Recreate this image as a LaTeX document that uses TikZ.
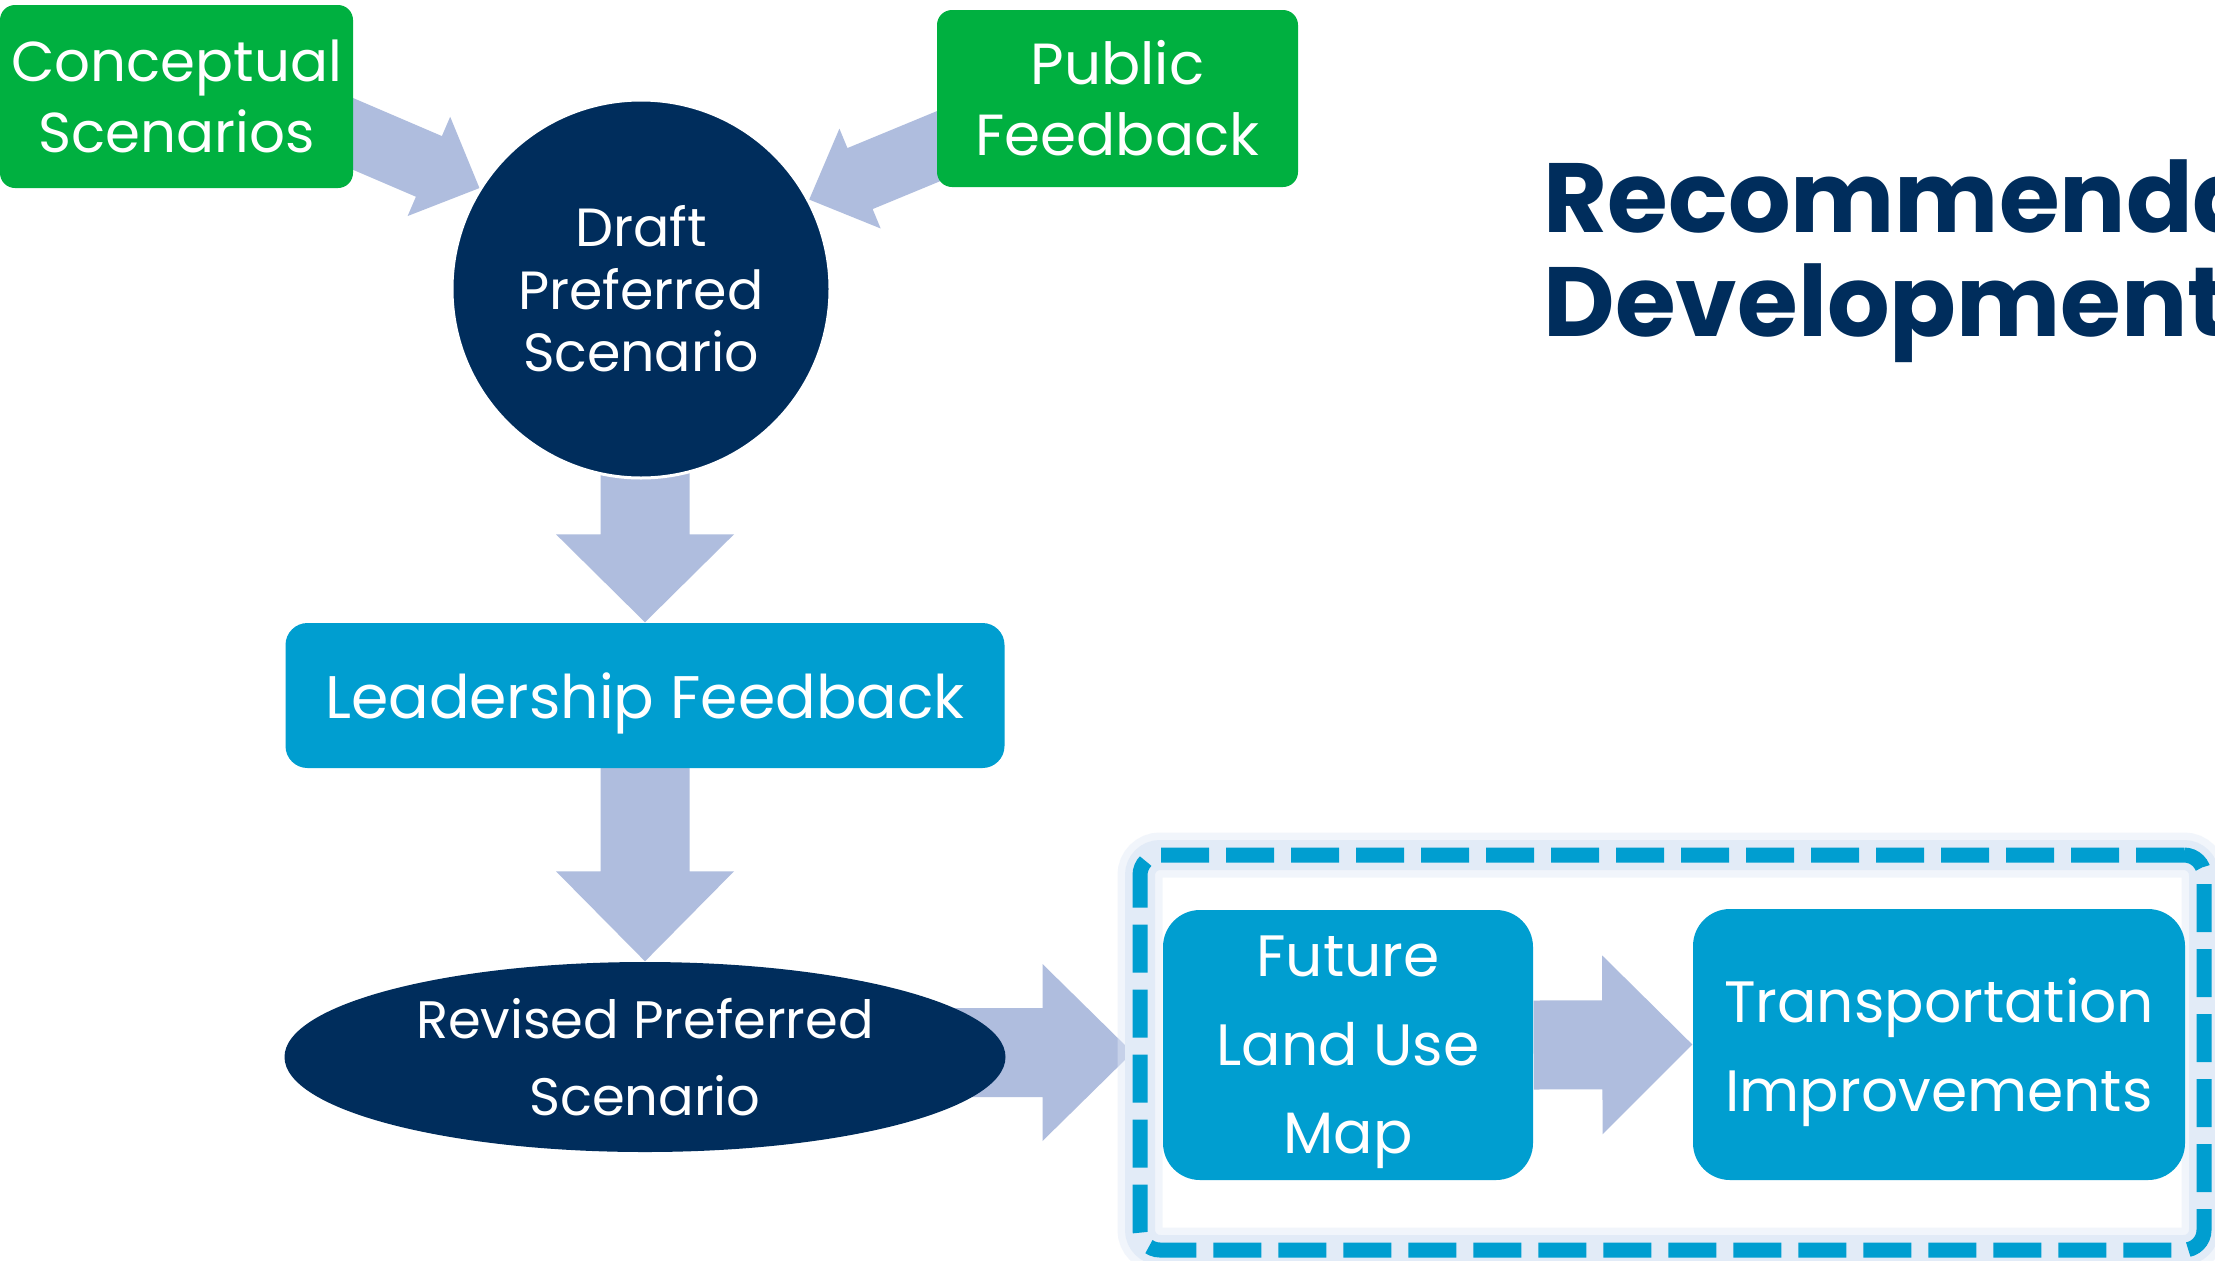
\documentclass[tikz,border=0pt]{standalone}
\usepackage{fontspec}
\setmainfont{Poppins}
\usetikzlibrary{backgrounds,calc,shapes.geometric}

\definecolor{grn}{RGB}{0,176,64}
\definecolor{navy}{RGB}{0,45,92}
\definecolor{boxblue}{RGB}{0,158,208}
\definecolor{arrowfill}{RGB}{175,189,222}
\definecolor{haze}{RGB}{226,235,247}

% block arrow: #1 from, #2 tip, #3 half shaft, #4 half head, #5 head length
\newcommand{\fatarrow}[5]{%
	\path ($(#2)!#5!(#1)$) coordinate (hb);
	\fill[arrowfill] ($(#1)!#3!90:(#2)$) -- ($(hb)!#3!90:(#2)$) -- ($(hb)!#4!90:(#2)$) -- (#2)
		-- ($(hb)!#4!-90:(#2)$) -- ($(hb)!#3!-90:(#2)$) -- ($(#1)!#3!-90:(#2)$) -- cycle;}

\begin{document}
\begin{tikzpicture}[x=0.1mm,y=-0.1mm,
	every node/.style={inner sep=0pt,text=white,align=center},
	greenbox/.style={fill=grn,rounded corners=1.5mm,font=\fontsize{16}{20.2}\selectfont},
	bluebox/.style={fill=boxblue,rounded corners=3.7mm,text depth=-2.5pt,font=\fontsize{16.6}{25.2}\selectfont},
	dashframe/.style={draw=boxblue,line width=1.5mm,dash pattern=on 4.8mm off 1.7mm,rounded corners=2mm,
		preaction={draw=haze,solid,line width=4.5mm,draw opacity=0.45},
		preaction={draw=haze,solid,line width=3mm}},
	titletext/.style={anchor=base west,text=navy,font=\bfseries\fontsize{28}{29.3}\selectfont}]
	\useasboundingbox (0,0) rectangle (2215,1260);
	\clip (0,0) rectangle (2215,1260);

	\node[greenbox,minimum width=35.3mm,minimum height=18.3mm] (concept) at (176.5,96.5) {Conceptual\\Scenarios};
	\node[greenbox,font=\fontsize{16.5}{20.2}\selectfont,minimum width=36.1mm,minimum height=17.7mm] (public) at (1117.5,98.5) {Public\\Feedback};
	\node[circle,fill=navy,draw=white,line width=0.3mm,minimum size=37.8mm,font=\fontsize{15.3}{17.8}\selectfont] (draft) at (641,289) {Draft\\Preferred\\Scenario};
	\node[bluebox,rounded corners=2.2mm,text depth=0pt,minimum width=71.9mm,minimum height=14.5mm,font=\fontsize{17.1}{21}\selectfont] (lead) at (645,695.5) {Leadership Feedback};
	\node[ellipse,fill=navy,minimum width=72.1mm,minimum height=19mm,font=\fontsize{15}{21.9}\selectfont] (revised) at (645,1057) {Revised Preferred\\Scenario};

	% dashed frame round the two outputs
	\node[dashframe,minimum width=106.4mm,minimum height=39.5mm] (frame) at (1672,1052.5) {};
	\node[bluebox,minimum width=37mm,minimum height=27mm] (future) at (1348,1045) {Future\\Land Use\\Map};
	\node[bluebox,minimum width=49.2mm,minimum height=27.1mm] (transport) at (1939,1044.5) {Transportation\\Improvements};

	\node[titletext] (title1) at (1543,232) {Recommenda};
	\node[titletext] (title2) at (1543,336) {Development};

	% arrows go behind the shapes
	\coordinate (c0) at ($(draft.148)!1.2!(concept.348)$);
	\coordinate (p0) at ($(draft.28)!1.2!(public.195)$);
	\coordinate (d0) at (lead.north |- draft.center);
	\coordinate (r0) at (revised.center |- frame.west);
	\begin{scope}[on background layer]
		\fill[white] (0,0) rectangle (2215,1260);
		\fatarrow{c0}{draft.148}{3.3mm}{5.4mm}{5.5mm}
		\fatarrow{p0}{draft.28}{3.3mm}{5.4mm}{5.5mm}
		\fatarrow{d0}{lead.north}{4.45mm}{8.9mm}{8.8mm}
		\fatarrow{lead.center}{revised.north}{4.45mm}{8.9mm}{9mm}
		\fatarrow{r0}{frame.west}{4.45mm}{8.85mm}{9mm}
		\fatarrow{future.east}{transport.west}{4.45mm}{8.95mm}{9mm}
	\end{scope}
\end{tikzpicture}
\end{document}
